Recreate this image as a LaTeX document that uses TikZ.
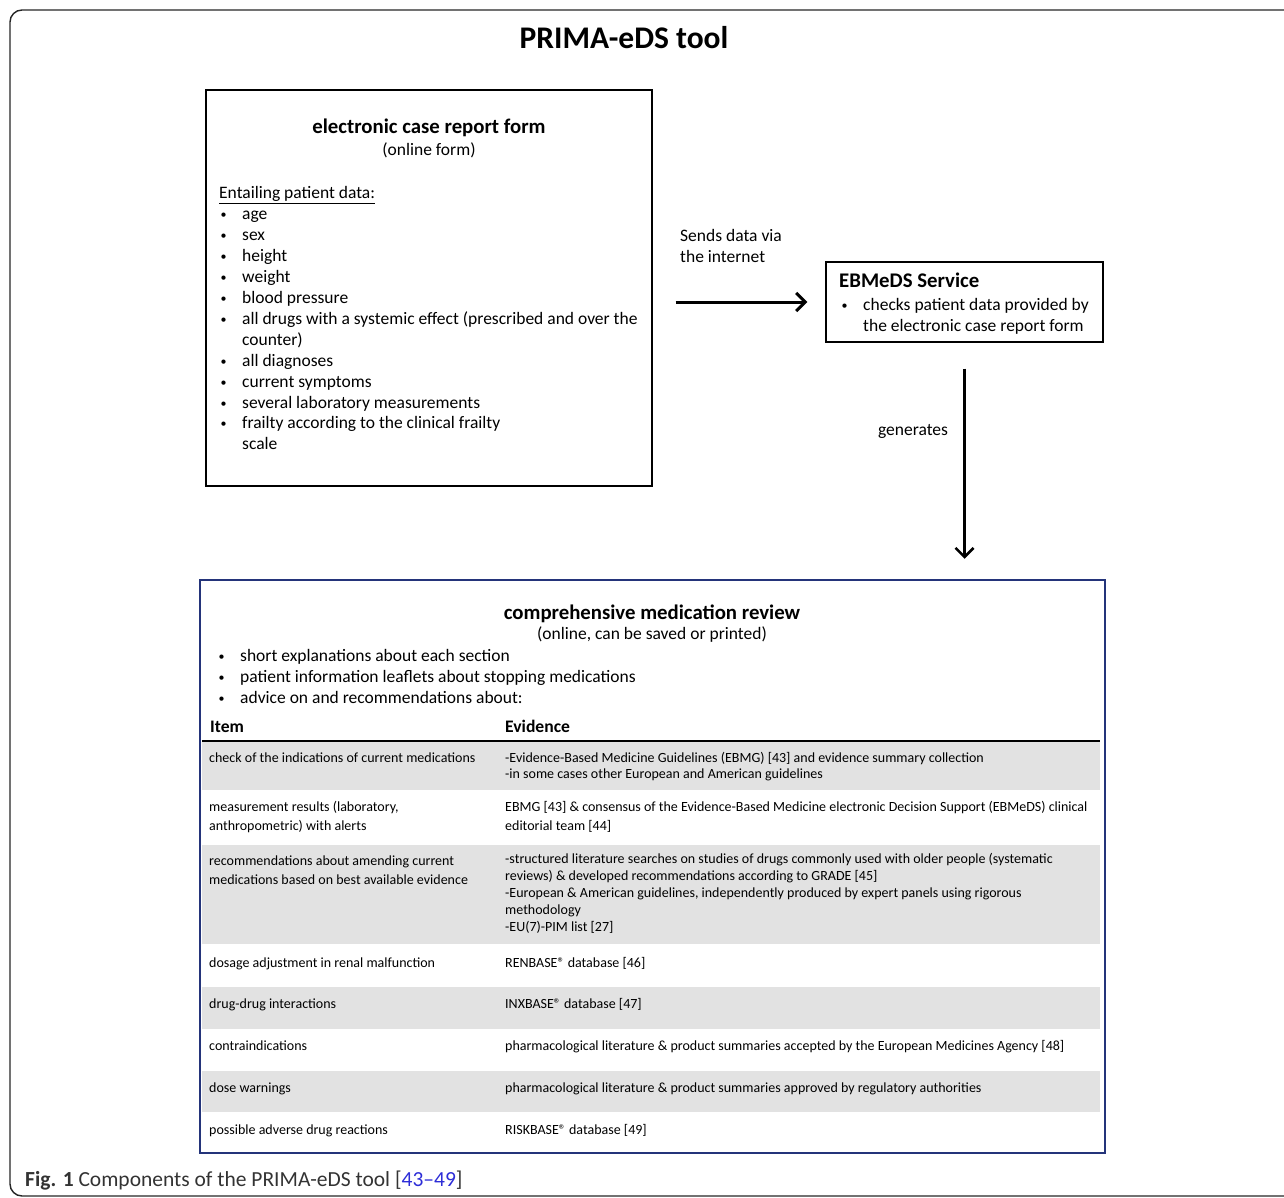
\documentclass[tikz,border=0pt]{standalone}
\usepackage{fontspec}
\setmainfont{Carlito}
\usetikzlibrary{arrows.meta,positioning}
\definecolor{navy}{RGB}{36,52,122}
\definecolor{rowgray}{RGB}{226,226,226}
\definecolor{refblue}{RGB}{45,45,215}
\tikzset{
  box/.style={draw, line width=1.4pt, inner sep=0pt},
  txt/.style={anchor=mid west, inner sep=0pt, yshift=-4pt, font=\fontsize{17.5}{21}\selectfont},
  sub/.style={anchor=center, inner sep=0pt, yshift=-1pt, font=\fontsize{17.5}{21}\selectfont},
  bul/.style={anchor=center, inner sep=0pt, yshift=-3pt, font=\fontsize{12}{12}\selectfont},
  head/.style={anchor=center, inner sep=0pt, yshift=-2pt, font=\fontsize{20.8}{24}\selectfont\bfseries},
  tab/.style={anchor=mid west, inner sep=0pt, yshift=-3pt, font=\fontsize{14}{17}\selectfont},
  flow/.style={line width=3pt, -{Straight Barb[length=9pt,width=18pt]}}
}
\begin{document}
\begin{tikzpicture}[x=1pt,y=-1pt]
\useasboundingbox (0,0) rectangle (1284,1198);
\clip (0,0) rectangle (1284,1198);
% outer frame
\draw[line width=1.4pt, rounded corners=12pt, black!85] (10,10) rectangle (1300,1196);
\node[inner sep=0pt, font=\fontsize{31.5}{34}\selectfont\bfseries] (title) at (624,38) {PRIMA-eDS tool};

% electronic case report form
\node[box, minimum width=446pt, minimum height=396pt] (ecrf) at (429,288) {};
\node[head] (ecrfT) at (429,126) {electronic case report form};
\node[sub] (ecrfS) at (429,149) {(online form)};
\node[txt] (ecrfL) at (219,192) {\underline{Entailing patient data:}};
\foreach \y/\t in {213/age, 234/sex, 255/height, 276/weight, 297/blood pressure,
    318/all drugs with a systemic effect (prescribed and over the, 360/all diagnoses,
    381/current symptoms, 402/several laboratory measurements,
    422/frailty according to the clinical frailty}{
  \node[bul] (eb\y) at (223.5,\y) {\textbullet};
  \node[txt] (ei\y) at (242,\y) {\t};
}
\node[txt] (ei339) at (242,339) {counter)};
\node[txt] (ei443) at (242,443) {scale};

% EBMeDS service
\node[box, minimum width=277pt, minimum height=80pt] (ebm) at (964.5,302) {};
\node[txt, font=\fontsize{20.8}{24}\selectfont\bfseries] (ebmT) at (839,281) {EBMeDS Service};
\node[bul] (ebmB) at (844.5,304) {\textbullet};
\node[txt] (ebm1) at (863,304) {checks patient data provided by};
\node[txt] (ebm2) at (863,325) {the electronic case report form};

% comprehensive medication review
\foreach \ya/\yb in {742/790, 845/944, 987/1029, 1071/1112}
  \fill[rowgray] (202,\ya) rectangle (1100,\yb);
\node[box, draw=navy, line width=2.5pt, minimum width=905pt, minimum height=573pt] (cmr) at (652.5,866.5) {};
\node[head] (cmrT) at (652,612) {comprehensive medication review};
\node[sub] (cmrS) at (652,634) {(online, can be saved or printed)};
\foreach \y/\t in {655/short explanations about each section,
    676/patient information leaflets about stopping medications,
    697/advice on and recommendations about:}{
  \node[bul] (cb\y) at (221.5,\y) {\textbullet};
  \node[txt] (ci\y) at (240,\y) {\t};
}
\node[txt, font=\fontsize{17.6}{20}\selectfont\bfseries] (hItem) at (210,726) {Item};
\node[txt, font=\fontsize{17.6}{20}\selectfont\bfseries] (hEvid) at (505,726) {Evidence};
\draw[line width=2pt] (202,741) -- (1100,741);
\foreach \x/\y/\t in {
    209/757/check of the indications of current medications,
    505/757/-Evidence-Based Medicine Guidelines (EBMG) [43] and evidence summary collection,
    505/773/-in some cases other European and American guidelines,
    209/806/{measurement results (laboratory,},
    209/825/anthropometric) with alerts,
    505/806/EBMG [43] \& consensus of the Evidence-Based Medicine electronic Decision Support (EBMeDS) clinical,
    505/825/editorial team [44],
    209/860/recommendations about amending current,
    209/879/medications based on best available evidence,
    505/858/-structured literature searches on studies of drugs commonly used with older people (systematic,
    505/875/reviews) \& developed recommendations according to GRADE [45],
    505/892/{-European \& American guidelines, independently produced by expert panels using rigorous},
    505/909/methodology,
    505/926/-EU(7)-PIM list [27],
    209/962/dosage adjustment in renal malfunction,
    505/962/RENBASE® database [46],
    209/1003/drug-drug interactions,
    505/1003/INXBASE® database [47],
    209/1045/contraindications,
    505/1045/pharmacological literature \& product summaries accepted by the European Medicines Agency [48],
    209/1087/dose warnings,
    505/1087/pharmacological literature \& product summaries approved by regulatory authorities,
    209/1129/possible adverse drug reactions,
    505/1129/RISKBASE® database [49]}
  \node[tab] (c\x-\y) at (\x,\y) {\t};

% connectors
\draw[flow, shorten <=23pt, shorten >=18pt] (ecrf.east |- ebm.west) -- (ebm.west);
\node[txt] (send1) at (680,235) {Sends data via};
\node[txt] (send2) at (680,256) {the internet};
\draw[flow, line width=2.6pt, shorten <=26pt, shorten >=20pt] (ebm.south) -- (ebm.south |- cmr.north);
\node[sub] (gen) at (913,430) {generates};

% caption
\node[txt, font=\fontsize{21.5}{25}\selectfont, text=black!80] (cap) at (25,1180)
  {\textbf{Fig. 1} Components of the PRIMA-eDS tool [\textcolor{refblue}{43–49}]};
\end{tikzpicture}
\end{document}
